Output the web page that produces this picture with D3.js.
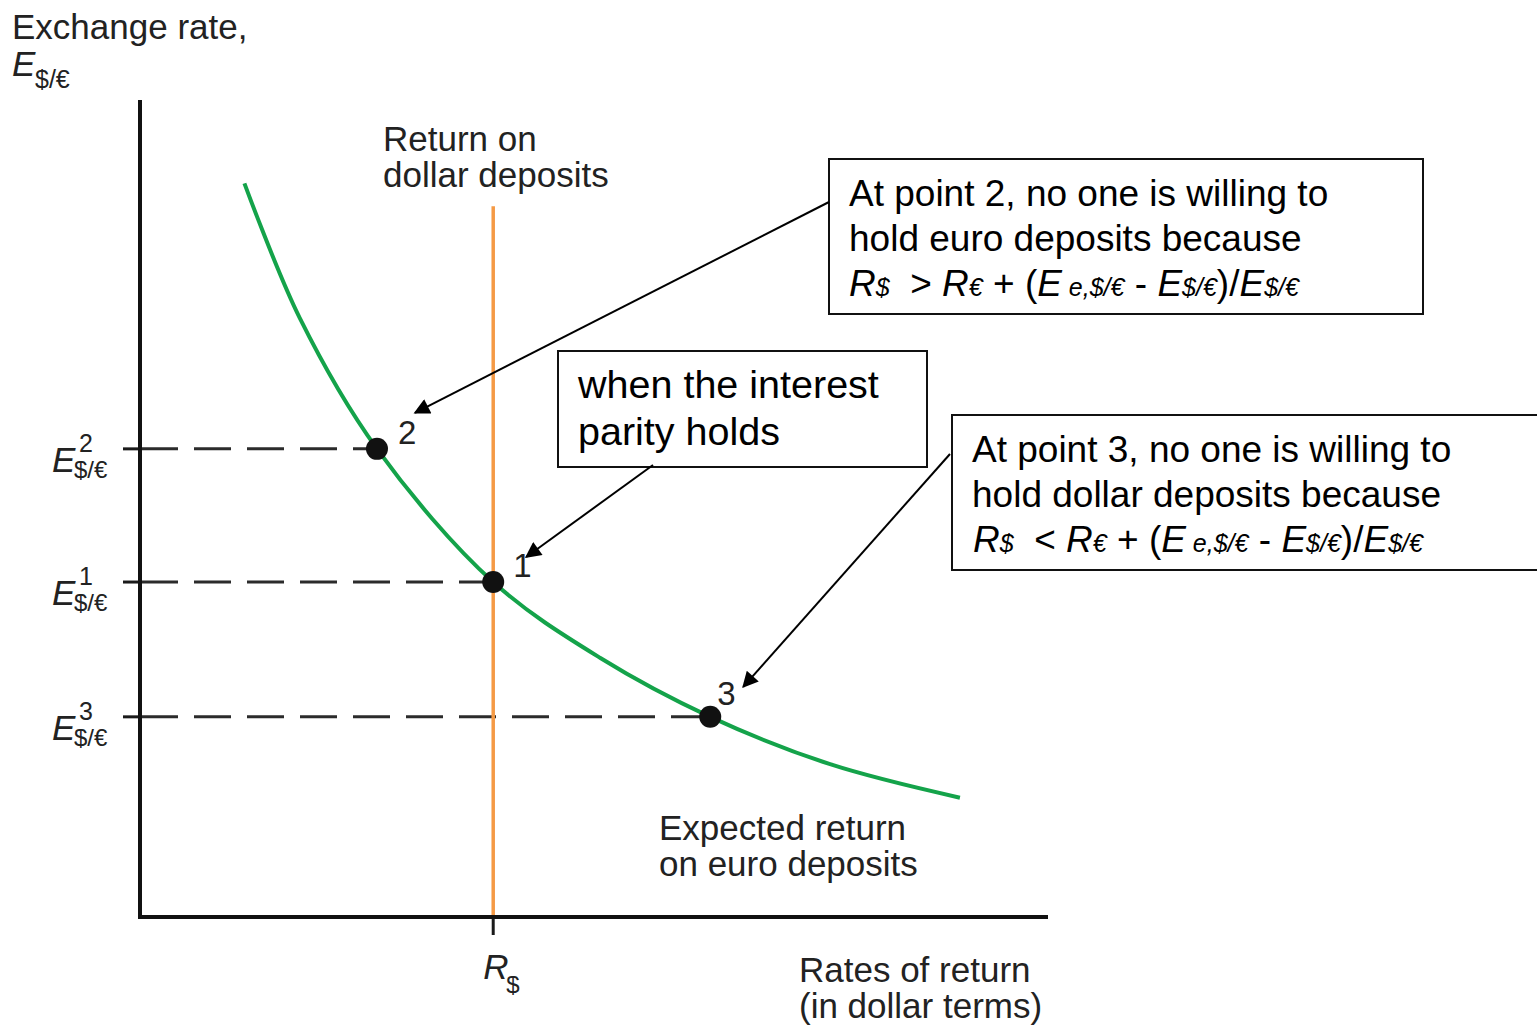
<!DOCTYPE html>
<html>
<head>
<meta charset="utf-8">
<script src="https://cdn.jsdelivr.net/npm/d3@7"></script>
<style>
  body { margin: 0; background: #fff; }
  svg text { font-family: "Liberation Sans", Arial, Helvetica, sans-serif; }
</style>
</head>
<body>
<svg id="chart" width="1537" height="1025"></svg>
<script>
// Expected return on euro deposits (abstract units, 0-100 on both axes)
const curveX = [11.5, 17.6, 26.1, 38.9, 50.7, 62.8, 76.0, 90.3];
const curveY = [89.8, 73.3, 57.3, 41.0, 31.7, 24.5, 18.7, 14.6];

// Equilibrium / disequilibrium points
const pointIds = ["2", "1", "3"];
const pointX = [26.1, 38.9, 62.8];
const pointY = [57.3, 41.0, 24.5];

// Return on dollar deposits (vertical line)
const dollarReturn = 38.9;
const dollarTop = 87.0;

const svg = d3.select("#chart");

const x = d3.scaleLinear().domain([0, 100]).range([140, 1048]);
const y = d3.scaleLinear().domain([0, 100]).range([917, 100]);

// dashed guides from y axis to each point
svg.append("g")
  .selectAll("line")
  .data(pointIds)
  .join("line")
  .attr("x1", x(0) + 1)
  .attr("x2", (d, i) => x(pointX[i]))
  .attr("y1", (d, i) => y(pointY[i]))
  .attr("y2", (d, i) => y(pointY[i]))
  .attr("stroke", "#2b2b2b")
  .attr("stroke-width", 3)
  .attr("stroke-dasharray", "37,16");

// y ticks
svg.append("g")
  .selectAll("line")
  .data(pointIds)
  .join("line")
  .attr("x1", x(0) - 17)
  .attr("x2", x(0))
  .attr("y1", (d, i) => y(pointY[i]))
  .attr("y2", (d, i) => y(pointY[i]))
  .attr("stroke", "#1a1a1a")
  .attr("stroke-width", 3);

// x tick at R$
svg.append("line")
  .attr("x1", x(dollarReturn)).attr("x2", x(dollarReturn))
  .attr("y1", y(0)).attr("y2", y(0) + 18)
  .attr("stroke", "#1a1a1a").attr("stroke-width", 3);

// orange line
svg.append("line")
  .attr("x1", x(dollarReturn)).attr("x2", x(dollarReturn))
  .attr("y1", y(0)).attr("y2", y(dollarTop))
  .attr("stroke", "#f59a45").attr("stroke-width", 3.5);

// green curve
const line = d3.line()
  .x(d => x(d[0]))
  .y(d => y(d[1]))
  .curve(d3.curveCatmullRom.alpha(0.5));

svg.append("path")
  .datum(curveX.map((v, i) => [v, curveY[i]]))
  .attr("d", line)
  .attr("fill", "none")
  .attr("stroke", "#14a34a")
  .attr("stroke-width", 4);

// axes
svg.append("path")
  .attr("d", `M${x(0)},${y(100)} V${y(0)} H${x(100)}`)
  .attr("fill", "none")
  .attr("stroke", "#111")
  .attr("stroke-width", 4);

// points
svg.append("g")
  .selectAll("circle")
  .data(pointIds)
  .join("circle")
  .attr("cx", (d, i) => x(pointX[i]))
  .attr("cy", (d, i) => y(pointY[i]))
  .attr("r", 11)
  .attr("fill", "#111");

const labelOffsets = { "2": [21, -5], "1": [20, -5], "3": [7, -12] };
svg.append("g")
  .selectAll("text")
  .data(pointIds)
  .join("text")
  .attr("x", (d, i) => x(pointX[i]) + labelOffsets[d][0])
  .attr("y", (d, i) => y(pointY[i]) + labelOffsets[d][1])
  .attr("font-size", 33)
  .attr("fill", "#222")
  .text(d => d);

// y tick labels E^n_{$/€}
const eLab = svg.append("g").selectAll("g")
  .data(pointIds)
  .join("g")
  .attr("transform", (d, i) => `translate(52,${y(pointY[i])})`);
eLab.append("text")
  .attr("y", 23).attr("font-size", 35).attr("font-style", "italic").attr("fill", "#222")
  .text("E");
eLab.append("text")
  .attr("x", 27).attr("y", 3).attr("font-size", 25).attr("fill", "#222")
  .text(d => d);
eLab.append("text")
  .attr("x", 22).attr("y", 29).attr("font-size", 24).attr("fill", "#222")
  .text("$/€");

// axis titles
const plainText = (tx, ty, lines, size, fill, gap) => {
  const t = svg.append("text").attr("x", tx).attr("y", ty)
    .attr("font-size", size).attr("fill", fill);
  lines.forEach((s, i) => t.append("tspan").attr("x", tx).attr("dy", i ? gap : 0).text(s));
  return t;
};

plainText(12, 39, ["Exchange rate,"], 35, "#222", 0);
svg.append("text").attr("x", 12).attr("y", 76).attr("font-size", 35)
  .attr("font-style", "italic").attr("fill", "#222").text("E");
svg.append("text").attr("x", 35).attr("y", 88).attr("font-size", 25)
  .attr("fill", "#222").text("$/€");

svg.append("text").attr("x", x(dollarReturn) - 10).attr("y", 979).attr("font-size", 35)
  .attr("font-style", "italic").attr("fill", "#222").text("R");
svg.append("text").attr("x", x(dollarReturn) + 13).attr("y", 993).attr("font-size", 24)
  .attr("fill", "#222").text("$");

plainText(799, 982, ["Rates of return", "(in dollar terms)"], 35, "#222", 36);
plainText(383, 151, ["Return on", "dollar deposits"], 35, "#222", 36);
plainText(659, 840, ["Expected return", "on euro deposits"], 35, "#222", 36);

// annotation boxes
function box(bx, by, bw, bh) {
  svg.append("rect")
    .attr("x", bx).attr("y", by).attr("width", bw).attr("height", bh)
    .attr("fill", "#fff").attr("stroke", "#111").attr("stroke-width", 2);
}

function formula(fx, fy, rel) {
  const t = svg.append("text").attr("x", fx).attr("y", fy)
    .attr("font-size", 37).attr("fill", "#000");
  const parts = [
    ["R", true, 37], ["$", true, 25], ["  " + rel + " ", false, 37],
    ["R", true, 37], ["€", true, 25], [" + (", false, 37],
    ["E", true, 37], [" e,$/€", true, 25], [" - ", false, 37],
    ["E", true, 37], ["$/€", true, 25], [")/", false, 37],
    ["E", true, 37], ["$/€", true, 25]
  ];
  parts.forEach(p => t.append("tspan")
    .attr("font-style", p[1] ? "italic" : "normal")
    .attr("font-size", p[2])
    .style("white-space", "pre")
    .text(p[0]));
  t.style("white-space", "pre");
}

box(829, 159, 594, 155);
plainText(849, 206, ["At point 2, no one is willing to", "hold euro deposits because"], 37, "#000", 45);
formula(849, 296, ">");

box(558, 351, 369, 116);
plainText(578, 398, ["when the interest", "parity holds"], 39.5, "#000", 47);

box(952, 415, 600, 155);
plainText(972, 462, ["At point 3, no one is willing to", "hold dollar deposits because"], 37, "#000", 45);
formula(973, 552, "<");

// arrows
const defs = svg.append("defs");
defs.append("marker")
  .attr("id", "head")
  .attr("viewBox", "0 0 10 10")
  .attr("refX", 9).attr("refY", 5)
  .attr("markerWidth", 21).attr("markerHeight", 16)
  .attr("markerUnits", "userSpaceOnUse")
  .attr("orient", "auto")
  .append("path").attr("d", "M0,0 L10,5 L0,10 Z").attr("fill", "#000");

const arrows = [
  [829, 202, x(pointX[0]) + 38, y(pointY[0]) - 36],
  [653, 465, x(pointX[1]) + 33, y(pointY[1]) - 25],
  [950, 454, x(pointX[2]) + 33, y(pointY[2]) - 30]
];
svg.append("g")
  .selectAll("line")
  .data(arrows)
  .join("line")
  .attr("x1", d => d[0]).attr("y1", d => d[1])
  .attr("x2", d => d[2]).attr("y2", d => d[3])
  .attr("stroke", "#000").attr("stroke-width", 2)
  .attr("marker-end", "url(#head)");
</script>
</body>
</html>
